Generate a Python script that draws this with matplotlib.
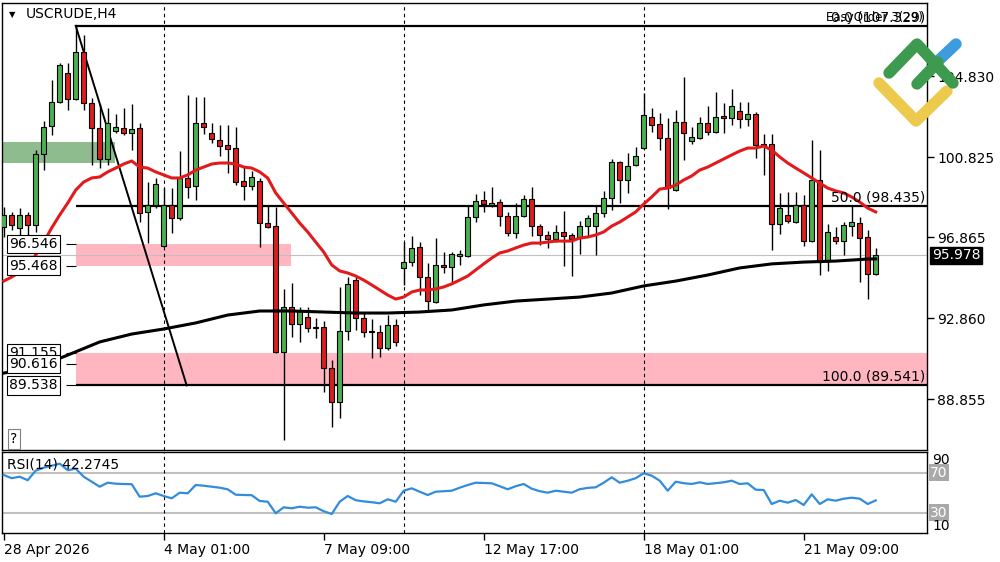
import numpy as np
import matplotlib.pyplot as plt
from matplotlib.lines import Line2D

plt.rcParams['font.family'] = ['DejaVu Sans']
plt.rcParams['font.size'] = 10

# H4 candles, USCRUDE
opens = [97.37, 97.97, 97.33, 97.97, 97.47, 100.99, 102.37, 103.56, 104.99, 103.71,
         106.03, 103.51, 102.27, 100.74, 102.12, 102.27, 102.02, 102.27, 98.12, 98.46,
         96.43, 98.46, 97.82, 99.80, 99.40, 102.52, 102.02, 101.68, 101.43, 101.28,
         99.65, 99.40, 99.65, 97.57, 97.42, 91.19, 93.42, 92.58, 92.92, 92.43,
         92.43, 90.40, 88.72, 92.23, 94.75, 92.87, 92.23, 92.18, 91.39, 92.53,
         95.35, 95.64, 96.38, 94.90, 93.66, 95.49, 95.39, 95.94, 95.94, 97.87,
         98.71, 98.46, 98.61, 97.92, 97.08, 97.92, 98.76, 97.42, 96.98, 96.78,
         97.13, 96.98, 96.83, 97.42, 97.42, 98.07, 98.81, 100.59, 99.70, 100.44,
         101.28, 102.81, 102.47, 101.78, 99.20, 102.57, 101.63, 101.78, 102.52, 102.07,
         102.86, 102.76, 103.11, 102.72, 102.96, 101.48, 101.48, 97.52, 97.97, 97.62,
         98.46, 96.68, 99.70, 95.69, 96.88, 96.68, 97.42, 97.57, 96.88, 95.05]
highs = [98.36, 98.12, 98.31, 98.12, 101.18, 102.62, 104.65, 105.49, 105.49, 107.33,
         106.87, 103.76, 103.46, 103.26, 102.96, 103.26, 103.46, 102.52, 99.60, 99.80,
         99.30, 99.30, 101.13, 103.90, 103.80, 103.80, 102.52, 102.42, 102.42, 102.32,
         100.34, 100.14, 99.80, 98.46, 98.36, 94.31, 94.60, 93.42, 93.42, 92.87,
         92.72, 90.79, 94.41, 94.90, 94.90, 93.12, 92.82, 92.53, 93.02, 92.82,
         96.63, 96.93, 96.63, 95.59, 96.83, 96.14, 96.14, 96.24, 98.46, 99.01,
         99.15, 99.35, 98.76, 98.12, 98.56, 98.96, 99.35, 97.52, 97.18, 97.47,
         98.17, 97.08, 97.67, 97.97, 98.41, 99.15, 100.74, 100.62, 101.03, 101.33,
         104.00, 103.26, 103.01, 102.76, 103.16, 104.79, 102.32, 102.81, 103.36, 104.05,
         103.51, 104.20, 103.56, 103.56, 103.06, 101.97, 101.97, 99.06, 99.11, 99.11,
         98.96, 101.68, 101.18, 97.52, 97.37, 97.62, 98.41, 97.87, 97.23, 96.34]
lows = [96.88, 97.23, 96.63, 96.98, 97.13, 100.19, 101.92, 103.50, 103.16, 103.66,
        103.16, 100.44, 100.29, 100.44, 102.02, 101.92, 101.18, 97.62, 96.58, 98.31,
        96.38, 97.08, 97.72, 98.81, 98.71, 101.97, 101.53, 100.89, 100.04, 99.45,
        98.71, 99.20, 96.38, 97.33, 91.14, 86.84, 91.93, 91.69, 92.18, 91.88,
        89.21, 87.48, 87.93, 91.78, 92.28, 91.93, 90.89, 90.94, 91.29, 91.49,
        94.51, 95.45, 94.01, 93.27, 93.61, 95.10, 94.65, 95.49, 95.90, 97.62,
        98.12, 98.36, 97.42, 96.93, 96.83, 97.87, 96.93, 96.48, 96.34, 96.63,
        95.45, 94.95, 96.04, 96.88, 95.99, 97.87, 98.21, 98.56, 99.06, 100.39,
        101.23, 102.07, 101.18, 98.26, 99.15, 100.69, 101.48, 101.75, 101.92, 102.02,
        102.02, 102.42, 102.27, 102.37, 100.79, 99.95, 96.24, 97.03, 97.57, 97.57,
        96.43, 96.63, 95.00, 95.20, 96.53, 95.99, 96.93, 94.65, 93.81, 95.00]
closes = [97.97, 97.47, 97.97, 97.47, 100.99, 102.32, 103.56, 105.39, 103.71, 106.03,
          103.51, 102.27, 100.74, 102.52, 102.32, 102.02, 102.22, 98.07, 98.46, 99.50,
          98.46, 97.82, 99.80, 99.35, 102.52, 102.32, 101.73, 101.38, 101.23, 99.60,
          99.40, 99.85, 97.57, 97.37, 91.19, 93.42, 92.58, 93.22, 92.38, 92.38,
          90.40, 88.72, 92.23, 94.55, 92.87, 92.18, 92.18, 91.39, 92.53, 91.69,
          95.64, 96.34, 94.90, 93.71, 95.49, 95.39, 96.04, 96.04, 97.87, 98.66,
          98.51, 98.56, 97.92, 97.08, 97.92, 98.76, 97.42, 96.98, 96.78, 97.13,
          96.93, 96.78, 97.42, 97.82, 98.07, 98.81, 100.59, 99.70, 100.39, 100.89,
          102.91, 102.42, 101.78, 99.30, 102.57, 102.02, 101.82, 102.52, 102.07, 102.81,
          102.76, 103.36, 102.72, 102.96, 101.43, 101.38, 97.52, 98.31, 97.67, 98.46,
          96.68, 99.70, 95.64, 97.13, 96.68, 97.47, 97.62, 96.83, 95.05, 95.978]

# red moving average, one value per candle
ma_fast = [94.70, 94.90, 95.15, 95.40, 95.99, 96.63, 97.33, 97.97, 98.56, 99.20,
           99.60, 99.80, 99.85, 100.10, 100.29, 100.49, 100.64, 100.34, 100.29, 100.10,
           99.95, 99.80, 99.80, 99.95, 100.19, 100.34, 100.49, 100.54, 100.54, 100.49,
           100.34, 100.29, 100.10, 99.80, 99.06, 98.56, 98.07, 97.57, 97.13, 96.63,
           96.14, 95.50, 95.20, 95.10, 94.95, 94.75, 94.51, 94.26, 94.01, 93.81,
           93.91, 94.16, 94.26, 94.26, 94.31, 94.41, 94.56, 94.75, 94.95, 95.25,
           95.55, 95.84, 96.09, 96.19, 96.34, 96.48, 96.58, 96.58, 96.63, 96.68,
           96.68, 96.68, 96.83, 96.88, 96.98, 97.13, 97.42, 97.62, 97.87, 98.12,
           98.51, 98.86, 99.25, 99.30, 99.45, 99.70, 99.90, 100.19, 100.34, 100.54,
           100.74, 100.94, 101.13, 101.28, 101.28, 101.38, 101.18, 100.84, 100.54, 100.29,
           100.05, 99.80, 99.55, 99.30, 99.16, 99.06, 98.86, 98.61, 98.31, 98.12]

# black moving average, read every 4th candle
ma_slow_idx = [0, 4, 8, 12, 16, 20, 24, 28, 32, 36, 40, 44, 48, 52, 56,
               60, 64, 68, 72, 76, 80, 84, 88, 92, 96, 100, 104, 108, 109]
ma_slow = [90.15, 90.40, 91.04, 91.69, 92.08, 92.33, 92.63, 93.02, 93.22, 93.22,
           93.17, 93.12, 93.12, 93.17, 93.27, 93.52, 93.71, 93.81, 93.91, 94.11,
           94.46, 94.70, 95.00, 95.35, 95.55, 95.64, 95.69, 95.79, 95.80]

rsi = [67.7, 64.5, 66.0, 62.5, 72.0, 75.0, 77.0, 79.0, 72.5, 74.0,
       66.0, 61.0, 56.0, 60.0, 59.0, 58.7, 58.5, 46.0, 46.7, 49.4,
       46.7, 44.4, 50.0, 49.4, 57.7, 57.0, 56.0, 55.0, 53.4, 48.0,
       47.7, 47.5, 41.7, 41.0, 29.4, 35.4, 34.4, 36.0, 35.0, 35.4,
       31.5, 28.7, 41.0, 46.7, 42.5, 41.3, 40.5, 39.4, 43.4, 41.0,
       52.0, 54.4, 51.0, 47.7, 51.0, 51.5, 52.0, 55.0, 57.7, 60.0,
       59.7, 59.4, 56.5, 53.4, 56.5, 58.7, 54.0, 51.5, 50.0, 52.0,
       51.0, 50.0, 53.5, 54.8, 55.4, 60.0, 65.4, 60.0, 62.0, 64.5,
       69.4, 67.0, 62.0, 52.0, 61.0, 59.5, 58.7, 60.4, 58.7, 59.5,
       60.4, 62.0, 58.7, 59.4, 53.0, 52.7, 38.7, 42.0, 40.0, 42.7,
       37.7, 48.4, 38.7, 43.4, 42.0, 44.0, 45.0, 44.0, 38.7, 42.2745]

price_ticks = [104.830, 100.825, 96.865, 92.860, 88.855]
time_pos = [0, 20, 40, 60, 80, 100]
time_labels = ['28 Apr 2026', '4 May 01:00', '7 May 09:00', '12 May 17:00',
               '18 May 01:00', '21 May 09:00']
week_starts = [20, 50, 80]

fib_high = 107.329
fib_mid = 98.435
fib_low = 89.541
last_price = 95.978
pink_upper = (96.546, 95.468)
pink_lower = (91.155, 89.538)
green_zone = (101.58, 100.54)
tag_levels = [96.546, 95.468, 91.155, 90.616, 89.538]

GREEN = '#4caf50'
RED = '#d81e1e'

fig = plt.figure(figsize=(10, 5.62), dpi=100)
ax = fig.add_axes([0.002, 1 - 450 / 562, 0.925, 447 / 562])
rax = fig.add_axes([0.002, 1 - 532.7 / 562, 0.925, 81 / 562])

xlim = (-0.2125, 115.41)
ax.set_xlim(*xlim)
ax.set_ylim(86.345, 108.454)
rax.set_xlim(*xlim)
rax.set_ylim(10, 91)

# zones
ax.fill_between([-0.5, 13.9], green_zone[1], green_zone[0], color='#8fbc8f', lw=0, zorder=1)
ax.fill_between([9.0, 35.9], pink_upper[1], pink_upper[0], color='#ffb6c1', lw=0, zorder=1)
ax.fill_between([9.0, 120], pink_lower[1], pink_lower[0], color='#ffb6c1', lw=0, zorder=1)

ax.axhline(last_price, color='#c0c0c0', lw=0.8, zorder=1.5)

# fibo
for lvl in [fib_high, fib_mid, fib_low]:
    ax.hlines(lvl, 9, xlim[1], color='black', lw=1.6, zorder=2)
ax.plot([9, 22.87], [fib_high, fib_low], color='black', lw=1.4, zorder=2)

for xv in week_starts:
    ax.axvline(xv, color='black', lw=0.8, ls=(0, (3, 3)), zorder=1.5)
    rax.axvline(xv, color='black', lw=0.8, ls=(0, (3, 3)), zorder=1.5)

# candles
o = np.array(opens)
h = np.array(highs)
l = np.array(lows)
c = np.array(closes)
x = np.arange(len(o))
cols = np.where(c >= o, GREEN, RED)
ax.vlines(x, l, h, color='black', lw=1, zorder=3)
ax.bar(x, np.maximum(np.abs(c - o), 0.05), bottom=np.minimum(o, c), width=0.65,
       color=cols, edgecolor='black', linewidth=0.8, zorder=4)

ax.plot(x, ma_fast, color='#e31a1c', lw=2.2, zorder=5)
ax.plot(ma_slow_idx, ma_slow, color='black', lw=2.2, zorder=5)

# price tags on the left
ytr = ax.get_yaxis_transform()
for lvl in tag_levels:
    ax.text(0.0075, lvl, f'{lvl:.3f}', transform=ytr, ha='left', va='center', zorder=6,
            bbox=dict(boxstyle='square,pad=0.15', fc='white', ec='black', lw=0.8))
    ax.hlines(lvl, 7.75, 9, color='black', lw=0.8, zorder=6)

# fibo labels
ax.annotate('50.0 (98.435)', xy=(0.998, fib_mid), xycoords=('axes fraction', 'data'),
            xytext=(0, 1), textcoords='offset points', ha='right', va='bottom', zorder=6)
ax.annotate('100.0 (89.541)', xy=(0.998, fib_low), xycoords=('axes fraction', 'data'),
            xytext=(0, 1), textcoords='offset points', ha='right', va='bottom', zorder=6)
ax.annotate('0.0 (107.329)', xy=(0.998, fib_high), xycoords=('axes fraction', 'data'),
            xytext=(0, 1), textcoords='offset points', ha='right', va='bottom', zorder=6)
ax.annotate('EasyOrder 3(29)', xy=(0.996, fib_high), xycoords=('axes fraction', 'data'),
            xytext=(0, 1), textcoords='offset points', ha='right', va='bottom',
            fontsize=8.5, zorder=6)

# title
ax.text(0.011, 0.975, '\u25bc', transform=ax.transAxes, ha='center', va='center', fontsize=6)
ax.text(0.026, 0.975, 'USCRUDE,H4', transform=ax.transAxes, ha='left', va='center')
ax.text(0.013, 0.025, '?', transform=ax.transAxes, ha='center', va='center',
        bbox=dict(boxstyle='square,pad=0.2', fc='white', ec='#808080', lw=0.8))

# right price scale
ax.yaxis.tick_right()
ax.set_yticks(price_ticks)
ax.set_yticklabels([f'{v:.3f}' for v in price_ticks])
ax.tick_params(axis='y', length=5, width=1, pad=2.5)
ax.set_xticks([])
ax.text(1.0055, last_price, f'{last_price:.3f}', transform=ytr, ha='left', va='center',
        color='white', zorder=7, clip_on=False,
        bbox=dict(boxstyle='square,pad=0.12', fc='black', ec='black'))

# RSI panel
rax.axhline(70, color='#c0c0c0', lw=1.5, zorder=1)
rax.axhline(30, color='#c0c0c0', lw=1.5, zorder=1)
rax.plot(x, rsi, color='#328cdc', lw=1.6, zorder=3)
rax.text(0.005, 0.836, f'RSI(14) {rsi[-1]:.4f}', transform=rax.transAxes,
         ha='left', va='center', zorder=4)
rytr = rax.get_yaxis_transform()
for lv in [70, 30]:
    rax.text(1.0035, lv, str(lv), transform=rytr, ha='left', va='center', color='white',
             clip_on=False, bbox=dict(boxstyle='square,pad=0.1', fc='#a9a9a9', ec='none'))
rax.text(1.006, 90, '90', transform=rytr, ha='left', va='top', clip_on=False)
rax.text(1.006, 10, '10', transform=rytr, ha='left', va='bottom', clip_on=False)
rax.set_yticks([])
rax.set_xticks(time_pos)
rax.set_xticklabels(time_labels)
for t in rax.get_xticklabels():
    t.set_ha('left')
rax.tick_params(axis='x', length=5, width=1, pad=2.5)

for a in (ax, rax):
    for s in a.spines.values():
        s.set_linewidth(1)
        s.set_color('black')

# logo
def px(pts):
    return [p[0] / 1000 for p in pts], [1 - p[1] / 562 for p in pts]

logo = [
    ([(879, 83), (916, 121), (947, 91)], '#edc94e'),
    ([(938, 61), (956, 44)], '#3d9be0'),
    ([(917, 84), (938, 62)], '#3e9a4e'),
    ([(889, 73), (917, 44), (953, 83)], '#3e9a4e'),
]
for pts, col in logo:
    xs, ys = px(pts)
    fig.add_artist(Line2D(xs, ys, transform=fig.transFigure, color=col, lw=8.2,
                          solid_capstyle='round', solid_joinstyle='round', zorder=10))

fig.savefig('out.png', dpi=100)
